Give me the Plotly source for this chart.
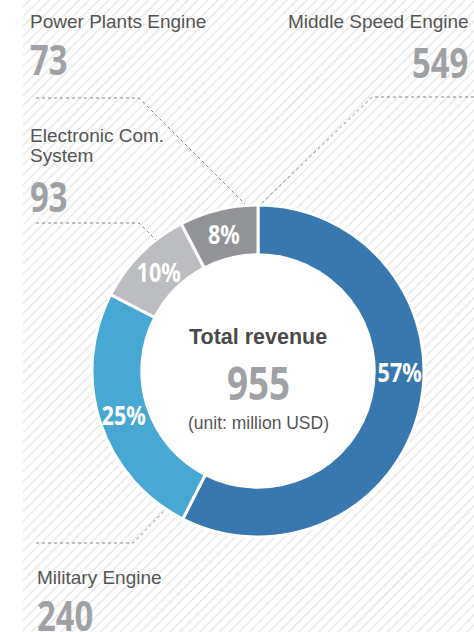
import math
import plotly.graph_objects as go

# ---- data ----
categories = ["Middle Speed Engine", "Military Engine", "Electronic Com.<br>System", "Power Plants Engine"]
values = [549, 240, 93, 73]
colors = ["#3878ae", "#46a8d3", "#bcbdc0", "#929396"]
center_title = "Total revenue"
unit_text = "(unit: million USD)"
total = sum(values)

W, H = 474, 632
BASE = "Noto Sans, Open Sans, DejaVu Sans"
def narrow(tag):
    # tag marks the text for a horizontal condensing CSS rule (condensed bold numerals)
    return dict(family=f"{BASE}, {tag}", weight="bold")
SANS = "Liberation Sans, Arial, Helvetica, sans-serif"
LABEL_C = "#555555"
NUM_C = "#a0a1a4"

fig = go.Figure()

# hatched background
fig.add_trace(go.Scatter(
    x=[23, W, W, 23, 23], y=[0, 0, H, H, 0], mode="lines", fill="toself",
    line=dict(width=0, color="rgba(0,0,0,0)"),
    fillcolor="white",
    fillpattern=dict(shape="/", size=7, solidity=0.18, fgcolor="#c8c8c8", bgcolor="white"),
    hoverinfo="skip", showlegend=False,
))

# donut
cx, cy, R, HOLE = 258, 371, 166, 0.70
fig.add_trace(go.Pie(
    labels=categories, values=values, sort=False, direction="clockwise", rotation=0,
    hole=HOLE,
    marker=dict(colors=colors, line=dict(color="white", width=3)),
    textinfo="none",
    domain=dict(x=[(cx - R) / W, (cx + R) / W],
                y=[1 - (cy + R) / H, 1 - (cy - R) / H]),
    hoverinfo="skip", showlegend=False,
))

shapes = [
    dict(type="circle", xref="x", yref="y", x0=cx - R * HOLE, x1=cx + R * HOLE,
         y0=cy - R * HOLE, y1=cy + R * HOLE,
         fillcolor="white", line=dict(width=0), layer="above"),
]
dash = dict(color="#858585", width=1, dash="3px,3px")
leaders = [
    "M 474 97 L 372 97 L 262 203",
    "M 36 543 L 133 543 L 166 509",
    "M 36 223 L 139 223 L 156 240",
    "M 36 98 L 139 98 L 245 204",
]
for p in leaders:
    shapes.append(dict(type="path", xref="x", yref="y", path=p, line=dash, layer="above"))

annotations = []

# percentage labels on the ring, placed from the slice angles
rm = R * (1 + HOLE) / 2
cum = 0
for v in values:
    a0 = cum / total * 360
    a1 = (cum + v) / total * 360
    cum += v
    ang = 90.0 if a0 < 90 < a1 and (a1 - a0) > 180 else (a0 + a1) / 2
    t = math.radians(ang)
    annotations.append(dict(
        x=cx + rm * math.sin(t), y=cy - rm * math.cos(t), xref="x", yref="y",
        text=f"{round(v / total * 100)}%", showarrow=False, xanchor="center", yanchor="middle",
        font=dict(size=27, color="white", **narrow("xcndC"))))

# category labels (layout positions only)
label_pos = [
    dict(x=471, ylab=21, ynum=62, anchor="right"),
    dict(x=35, ylab=577, ynum=615, anchor="left"),
    dict(x=28, ylab=135, ynum=196, anchor="left"),
    dict(x=28, ylab=21, ynum=59, anchor="left"),
]
for cat, val, pos in zip(categories, values, label_pos):
    for k, line in enumerate(cat.split("<br>")):
        annotations.append(dict(x=pos["x"], y=pos["ylab"] + 20 * k, xref="x", yref="y", text=line,
                                showarrow=False, xanchor=pos["anchor"], yanchor="middle",
                                font=dict(family=SANS, size=19, color=LABEL_C)))
    tag = "xcndR" if pos["anchor"] == "right" else "xcndL"
    annotations.append(dict(x=pos["x"] + (-1 if pos["anchor"] == "right" else 0), y=pos["ynum"],
                            xref="x", yref="y", text=str(val), showarrow=False,
                            xanchor=pos["anchor"], yanchor="middle",
                            font=dict(size=41, color=NUM_C, **narrow(tag))))

annotations += [
    dict(x=cx, y=337, xref="x", yref="y", text=center_title, showarrow=False,
         font=dict(family=SANS, size=21.5, color="#4a4a4a", weight="bold")),
    dict(x=cx, y=382, xref="x", yref="y", text=str(total), showarrow=False,
         font=dict(size=46, color=NUM_C, **narrow("xcndC"))),
    dict(x=cx, y=423, xref="x", yref="y", text=unit_text, showarrow=False,
         font=dict(family=SANS, size=17.5, color="#555555")),
]

fig.update_layout(
    width=W, height=H, autosize=False,
    margin=dict(l=0, r=0, t=0, b=0, pad=0),
    paper_bgcolor="white", plot_bgcolor="white",
    xaxis=dict(range=[0, W], visible=False, fixedrange=True, domain=[0, 1]),
    yaxis=dict(range=[H, 0], visible=False, fixedrange=True, domain=[0, 1]),
    shapes=shapes, annotations=annotations, showlegend=False,
    hovermode=False,
)

css = (
    "body{margin:0 !important;overflow:hidden;}"
    "text[style*='xcndC']{transform:scaleX(0.8);transform-box:fill-box;transform-origin:50% 50%;}"
    "text[style*='xcndL']{transform:scaleX(0.8);transform-box:fill-box;transform-origin:0% 50%;}"
    "text[style*='xcndR']{transform:scaleX(0.8);transform-box:fill-box;transform-origin:100% 50%;}"
)
post = "var s=document.createElement('style');s.textContent=\"" + css + "\";document.head.appendChild(s);"

fig.write_html("out.html", config={"displayModeBar": False, "staticPlot": True}, post_script=post)
